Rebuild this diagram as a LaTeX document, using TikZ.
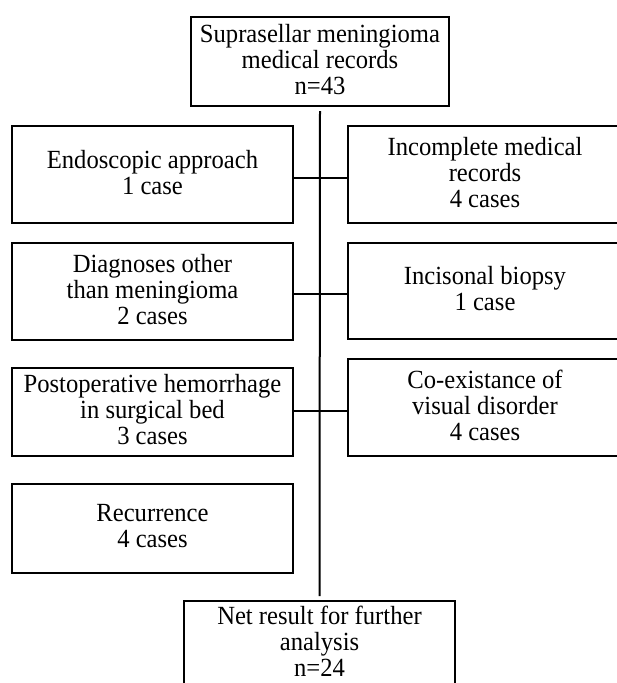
\documentclass[tikz,border=0pt]{standalone}
\usepackage{fontspec}
\setmainfont{Liberation Serif}[FakeStretch=0.94]
\begin{document}
\begin{tikzpicture}[x=1pt,y=-1pt,
  box/.style={draw, line width=2pt, align=center, inner sep=0pt,
    font=\fontsize{26.2}{26}\selectfont,
    execute at end node={\rule[-5pt]{0pt}{5pt}}},
  lbox/.style={box, minimum width=281pt},
  rbox/.style={box, minimum width=274pt},
  link/.style={line width=2pt}]
\useasboundingbox (0,0) rectangle (617,683);
\node[box, minimum width=258pt, minimum height=89pt] (top) at (320,61.5)
  {Suprasellar meningioma\\medical records\\n=43};
\node[lbox, minimum height=97pt] (l1) at (152.5,174.5) {Endoscopic approach\\1 case};
\node[lbox, minimum height=97pt] (l2) at (152.5,291.5) {Diagnoses other\\than meningioma\\2 cases};
\node[lbox, minimum height=88pt] (l3) at (152.5,412) {Postoperative hemorrhage\\in surgical bed\\3 cases};
\node[lbox, minimum height=89pt] (l4) at (152.5,528.5) {Recurrence\\4 cases};
\node[rbox, minimum height=97pt] (r1) at (485,174.5) {Incomplete medical\\records\\4 cases};
\node[rbox, minimum height=96pt] (r2) at (485,291) {Incisonal biopsy\\1 case};
\node[rbox, minimum height=97pt] (r3) at (485,407.5) {Co-existance of\\visual disorder\\4 cases};
\node[box, minimum width=271pt, minimum height=86pt] (bot) at (319.5,644)
  {Net result for further\\analysis\\n=24};
\draw[link] ([yshift=-4pt]top.south) -- ([yshift=4pt]bot.north);
\draw[link] ([yshift=-3.5pt]l1.east) -- ([yshift=-3.5pt]l1.east -| r1.west);
\draw[link] ([yshift=-2.5pt]l2.east) -- ([yshift=-2.5pt]l2.east -| r2.west);
\draw[link] ([yshift=1pt]l3.east) -- ([yshift=1pt]l3.east -| r3.west);
\end{tikzpicture}
\end{document}
